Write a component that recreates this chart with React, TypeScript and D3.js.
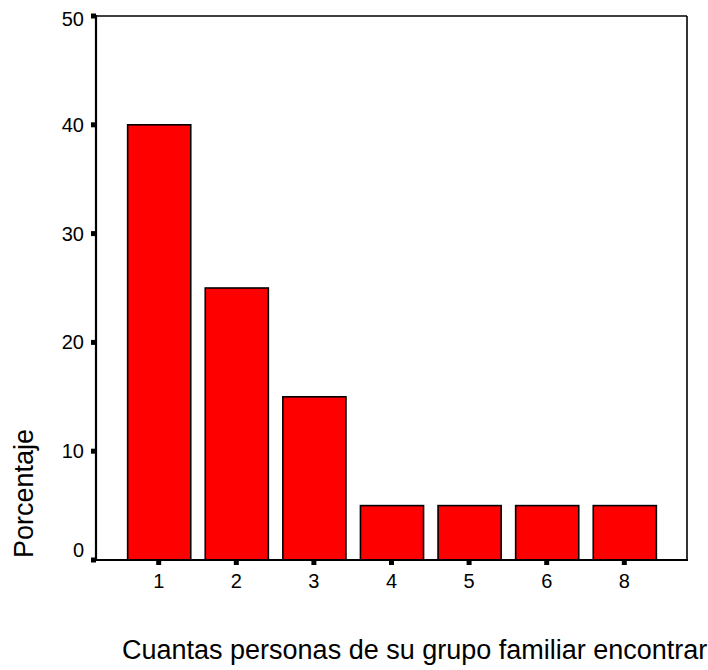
import React from 'react';
import * as d3 from 'd3';

const categories = ['1', '2', '3', '4', '5', '6', '8'];
const percentages = [40, 25, 15, 5, 5, 5, 5];
const yTicks = [0, 10, 20, 30, 40, 50];
const yTitle = 'Porcentaje';
const xTitle = 'Cuantas personas de su grupo familiar encontraron';

const W = 708;
const H = 670;
const left = 96;
const right = 687;
const top = 16;
const bottom = 560;
const font = '"Liberation Sans", Arial, sans-serif';

export default function App() {
  const x = d3.scaleBand<string>().domain(categories).range([left, right]).paddingInner(0.174).paddingOuter(0.395);
  const y = d3.scaleLinear().domain([0, 50]).range([bottom, top]);
  const yLabelShift = (v: number) => (v === 0 ? -10 : v === 50 ? 3 : 0);

  return (
    <svg width={W} height={H} style={{ position: 'absolute', left: 0, top: 0, background: '#fff' }} fontFamily={font}>
      <rect x={0} y={0} width={W} height={H} fill="#fff" />
      {categories.map((c, i) => (
        <rect
          key={c}
          x={(x(c) as number) + 1}
          y={y(percentages[i])}
          width={x.bandwidth() - 1}
          height={y(0) - y(percentages[i])}
          fill="#ff0000"
          stroke="#000"
          strokeWidth={1.6}
        />
      ))}
      {/* frame */}
      <line x1={left} x2={right} y1={y(50)} y2={y(50)} stroke="#000" strokeWidth={1.6} />
      <line x1={right} x2={right} y1={y(50)} y2={bottom} stroke="#000" strokeWidth={1.6} />
      <line x1={left} x2={left} y1={y(50) - 1} y2={bottom + 1} stroke="#000" strokeWidth={2.2} />
      <line x1={left - 1} x2={right + 1} y1={bottom} y2={bottom} stroke="#000" strokeWidth={2.2} />
      {/* y ticks */}
      {yTicks.map((t) => (
        <g key={t}>
          <line x1={left - 5} x2={left} y1={y(t)} y2={y(t)} stroke="#000" strokeWidth={5} />
          <text x={84} y={y(t) + yLabelShift(t)} dy="0.35em" textAnchor="end" fontSize={20} fill="#000">
            {t}
          </text>
        </g>
      ))}
      {/* x ticks */}
      {categories.map((c) => {
        const cx = (x(c) as number) + x.bandwidth() / 2;
        return (
          <g key={c}>
            <line x1={cx} x2={cx} y1={bottom} y2={bottom + 5} stroke="#000" strokeWidth={5} />
            <text x={cx} y={588} textAnchor="middle" fontSize={20} fill="#000">
              {c}
            </text>
          </g>
        );
      })}
      <text x={122} y={659} fontSize={27} fill="#000">
        {xTitle}
      </text>
      <text transform="translate(33,558) rotate(-90)" fontSize={27} fill="#000">
        {yTitle}
      </text>
    </svg>
  );
}
